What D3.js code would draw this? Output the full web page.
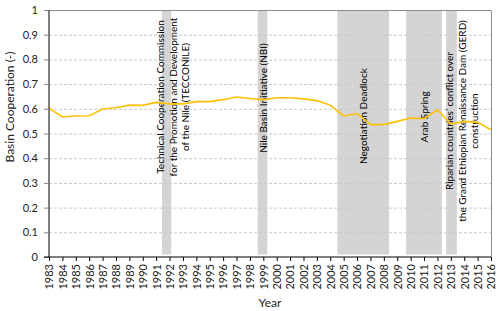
<!DOCTYPE html>
<html>
<head>
<meta charset="utf-8">
<script src="https://cdn.jsdelivr.net/npm/d3@7"></script>
<style>
  body { margin: 0; background: #fff; }
  svg { display: block; font-family: Lato, "Open Sans", sans-serif; }
</style>
</head>
<body>
<div id="chart"></div>
<script>
var years = d3.range(1983, 2017);
var cooperation = [0.603, 0.567, 0.571, 0.572, 0.599, 0.604, 0.615, 0.614, 0.626, 0.620,
                   0.620, 0.629, 0.629, 0.637, 0.648, 0.642, 0.637, 0.645, 0.645, 0.640,
                   0.633, 0.615, 0.571, 0.581, 0.536, 0.536, 0.549, 0.563, 0.560, 0.596,
                   0.538, 0.549, 0.545, 0.515];

// shaded periods (fractional years) and their labels
var periodStart = [1991.44, 1998.58, 2004.53, 2009.66, 2012.65];
var periodEnd   = [1992.13, 1999.30, 2008.39, 2012.33, 2013.45];
var periodLabels = [
  ["Technical Cooperation Commission", "for the Promotion and Development", "of the Nile (TECCONILE)"],
  ["Nile Basin Initiative (NBI)"],
  ["Negotiation Deadlock"],
  ["Arab Spring"],
  ["Riparian countries\u2019 conflict over", "the Grand Ethiopian Renaissance Dam (GERD)", "construction"]
];
var labelCenterY = [97, 98, 116, 117, 121];
var labelCenterX = [173, 263, 363, 424, 462];

var yTicks = d3.range(0, 11).map(function(d) { return d / 10; });

var width = 500, height = 311;
var margin = {left: 49, right: 9, top: 10, bottom: 54};

var svg = d3.select("#chart").append("svg")
    .attr("width", width).attr("height", height);

var x = d3.scaleLinear()
    .domain([1983, 2016])
    .range([margin.left, width - margin.right]);

var y = d3.scaleLinear()
    .domain([0, 1])
    .range([height - margin.bottom, margin.top]);

// shaded periods
svg.append("g").selectAll("rect")
    .data(periodStart)
    .enter().append("rect")
      .attr("x", function(d) { return x(d); })
      .attr("width", function(d, i) { return x(periodEnd[i]) - x(d); })
      .attr("y", y(1))
      .attr("height", y(0.01) - y(1))
      .attr("fill", "#d4d4d4");

// gridlines
svg.append("g").selectAll("line")
    .data(yTicks.filter(function(d) { return d > 0 && d < 1; }))
    .enter().append("line")
      .attr("x1", x(1983)).attr("x2", x(2016))
      .attr("y1", function(d) { return y(d) + 0.5; })
      .attr("y2", function(d) { return y(d) + 0.5; })
      .attr("stroke", "#c8c8c8")
      .attr("stroke-dasharray", "3,2");

// top and right border
svg.append("path")
    .attr("d", "M" + x(1983) + "," + (y(1) + 0.5) + "H" + (x(2016) + 0.5) + "V" + y(0))
    .attr("fill", "none")
    .attr("stroke", "#8c8c8c");

// period labels
periodLabels.forEach(function(lines, i) {
  var t = svg.append("text")
      .attr("transform", "translate(" + labelCenterX[i] + "," + labelCenterY[i] + ") rotate(-90)")
      .attr("text-anchor", "middle")
      .attr("font-size", 10)
      .attr("fill", "#000");
  lines.forEach(function(s, j) {
    t.append("tspan")
      .attr("x", 0)
      .attr("y", (j - (lines.length - 1) / 2) * 12.3 + 3.5)
      .text(s);
  });
});

// the line
var line = d3.line()
    .x(function(d, i) { return x(years[i]); })
    .y(function(d) { return y(d); });

svg.append("path")
    .datum(cooperation)
    .attr("d", line)
    .attr("fill", "none")
    .attr("stroke", "#ffc000")
    .attr("stroke-width", 1.6);

// axes
var yAxis = svg.append("g")
    .attr("transform", "translate(" + x(1983) + ",0)")
    .call(d3.axisLeft(y).tickValues(yTicks).tickSize(5).tickPadding(6)
          .tickFormat(function(d) { return d === 0 || d === 1 ? d3.format("d")(d) : d3.format(".1f")(d); }));
yAxis.select(".domain").attr("stroke", "#000").attr("d", "M0," + y(0) + "V" + y(1));
yAxis.selectAll(".tick line").attr("stroke", "#888");
yAxis.selectAll("text").attr("font-size", 11).attr("font-family", "Lato, sans-serif").attr("fill", "#222");

var xAxis = svg.append("g")
    .attr("transform", "translate(0," + y(0) + ")")
    .call(d3.axisBottom(x).tickValues(years).tickSize(4).tickFormat(d3.format("d")));
xAxis.select(".domain").attr("stroke", "#000").attr("d", "M" + (x(1983) - 5) + ",0H" + x(2016));
xAxis.selectAll(".tick line").attr("stroke", "#000");
xAxis.selectAll("text")
    .attr("font-size", 11)
    .attr("font-family", "Lato, sans-serif")
    .attr("fill", "#222")
    .attr("transform", "rotate(-90)")
    .attr("text-anchor", "end")
    .attr("dy", "0.35em")
    .attr("x", -7)
    .attr("y", 0);

// axis titles
svg.append("text")
    .attr("transform", "translate(14,107) rotate(-90)")
    .attr("text-anchor", "middle")
    .attr("font-size", 12)
    .attr("fill", "#222")
    .text("Basin Cooperation (-)");

svg.append("text")
    .attr("x", 270).attr("y", 307)
    .attr("text-anchor", "middle")
    .attr("font-size", 12)
    .attr("fill", "#222")
    .text("Year");
</script>
</body>
</html>
